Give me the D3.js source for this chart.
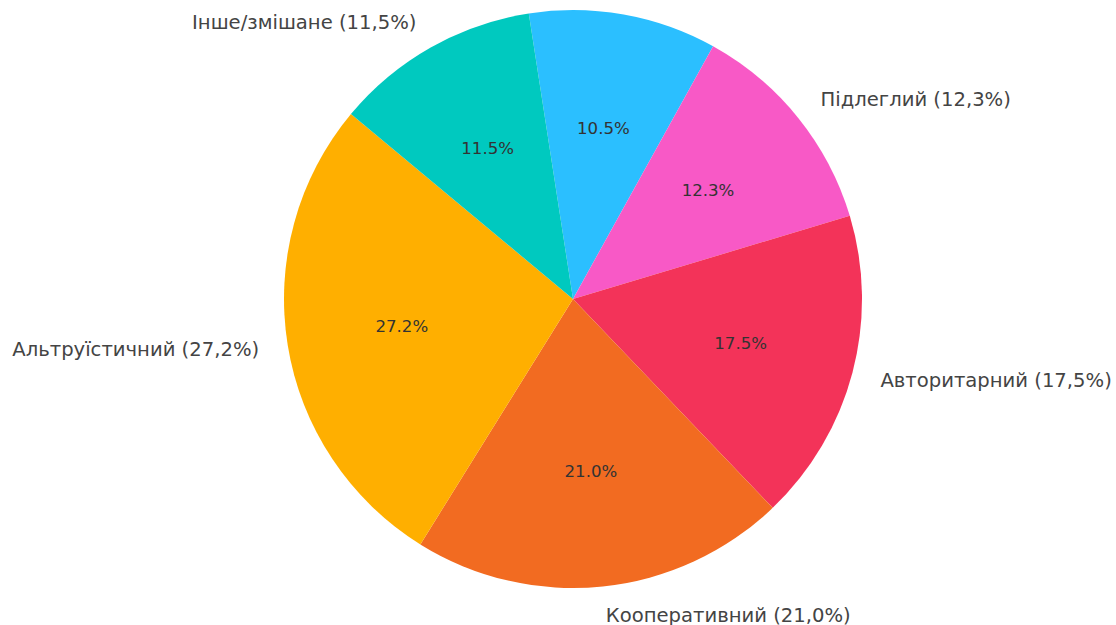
<!DOCTYPE html>
<html>
<head>
<meta charset="utf-8">
<script src="https://cdn.jsdelivr.net/npm/d3@7"></script>
<style>
  body { margin: 0; background: #fff; }
  text { font-family: "DejaVu Sans", sans-serif; }
</style>
</head>
<body>
<svg id="pie-chart-svg" width="1116" height="625"></svg>
<script>
// slices in clockwise order, starting just left of 12 o'clock
let sliceNames = ["", "Підлеглий", "Авторитарний", "Кооперативний", "Альтруїстичний", "Інше/змішане"];
let sliceValues = [10.5, 12.3, 17.5, 21.0, 27.2, 11.5];
let sliceColors = ["#2BBFFF", "#F859C6", "#F33359", "#F26B21", "#FFAF00", "#00C9BF"];

let svg = d3.select('#pie-chart-svg');
let cx = 573, cy = 299, radius = 289;
let startAngle = -8.8 * Math.PI / 180;

let pie = d3.pie().sort(null).value(d => d.value)
    .startAngle(startAngle).endAngle(startAngle + 2 * Math.PI);
let arc = d3.arc().outerRadius(radius).innerRadius(0);
let pctArc = d3.arc().outerRadius(radius * 0.6).innerRadius(radius * 0.6);
let labelArc = d3.arc().outerRadius(radius * 1.1).innerRadius(radius * 1.1);

let data = sliceNames.map((n, i) => ({name: n, value: sliceValues[i], color: sliceColors[i]}));

let g = svg.append("g").attr("transform", "translate(" + cx + "," + cy + ")");

g.selectAll("path")
    .data(pie(data))
    .enter()
    .append("path")
    .attr("d", arc)
    .attr("fill", d => d.data.color);

// percentages inside
g.selectAll("text.pct")
    .data(pie(data))
    .enter()
    .append("text")
    .attr("class", "pct")
    .attr("x", d => pctArc.centroid(d)[0])
    .attr("y", d => pctArc.centroid(d)[1])
    .attr("dy", "0.35em")
    .attr("text-anchor", "middle")
    .attr("font-size", "16.6px")
    .attr("fill", "#333")
    .text(d => d.data.value.toFixed(1) + "%");

// outer labels (the top one falls outside the frame)
g.selectAll("text.lbl")
    .data(pie(data).filter(d => d.data.name !== ""))
    .enter()
    .append("text")
    .attr("class", "lbl")
    .attr("x", d => labelArc.centroid(d)[0])
    .attr("y", d => labelArc.centroid(d)[1])
    .attr("dy", "0.35em")
    .attr("text-anchor", d => labelArc.centroid(d)[0] < 0 ? "end" : "start")
    .attr("font-size", "19.6px")
    .attr("fill", "#444")
    .text(d => d.data.name + " (" + d.data.value.toFixed(1).replace(".", ",") + "%)");
</script>
</body>
</html>
